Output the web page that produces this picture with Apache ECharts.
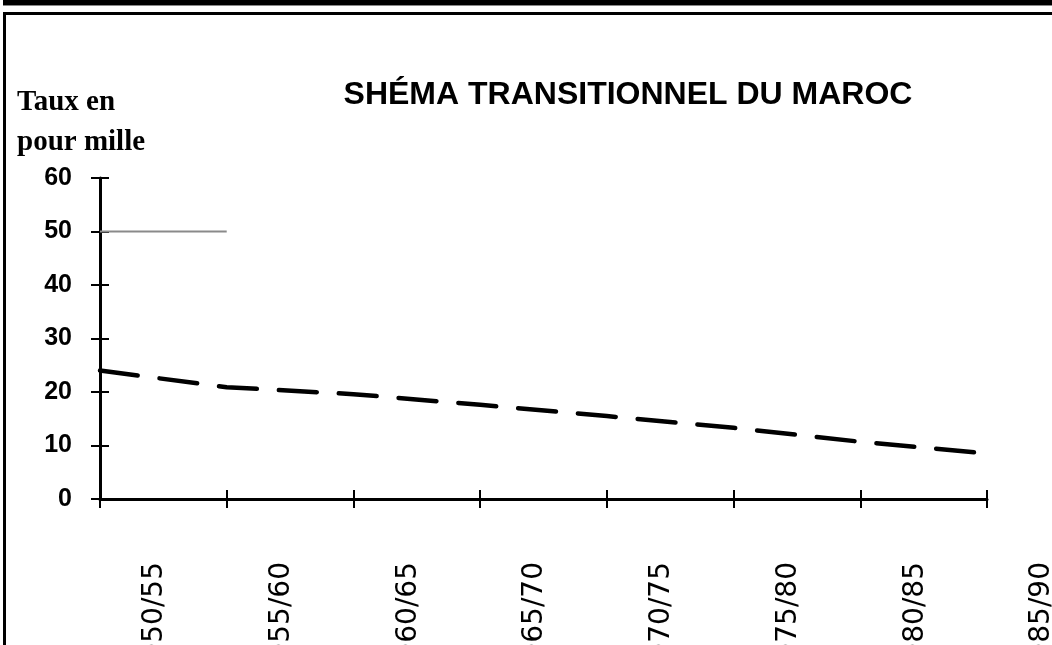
<!DOCTYPE html>
<html lang="fr">
<head>
  <meta charset="UTF-8">
  <title>Shéma transitionnel du Maroc</title>
  <style>
    html, body { margin: 0; padding: 0; background: #fff; }
    #chart { width: 1052px; height: 645px; }
  </style>
  <script src="https://cdn.jsdelivr.net/npm/echarts@6/dist/echarts.min.js"></script>
</head>
<body>
<div id="chart"></div>
<script>
  // périodes quinquennales
  const periods = ['1950/55', '1955/60', '1960/65', '1965/70', '1970/75', '1975/80', '1980/85', '1985/90'];
  // taux de mortalité (pour mille)
  const mortalite = [24, 20.9, 19.6, 17.6, 15.5, 13.3, 10.7, 8.5];
  // trait gris à 50 (début de la série natalité)
  const natalite = [50, 50, null, null, null, null, null, null];

  const chart = echarts.init(document.getElementById('chart'));

  const yBase = { type: 'value', min: 0, max: 60, interval: 10, splitLine: { show: false } };
  const xBase = { type: 'category', data: periods, boundaryGap: false, position: 'bottom' };

  chart.setOption({
    animation: false,
    title: [
      {
        text: 'SHÉMA TRANSITIONNEL DU MAROC',
        left: 628, top: 79, textAlign: 'center', padding: 0,
        textStyle: { fontFamily: 'Liberation Sans', fontWeight: 'bold', fontSize: 32, color: '#000' }
      },
      {
        text: 'Taux en\npour mille',
        left: 17, top: 83, padding: 0,
        textStyle: { fontFamily: 'Liberation Serif', fontWeight: 'bold', fontSize: 29, lineHeight: 40, color: '#000' }
      }
    ],
    graphic: [
      // cadres
      { type: 'rect', shape: { x: 3, y: 0, width: 1049, height: 5 }, style: { fill: '#000' } },
      { type: 'rect', shape: { x: 3, y: 5, width: 1049, height: 1 }, style: { fill: '#888' } },
      { type: 'rect', shape: { x: 3, y: 12, width: 1049, height: 3 }, style: { fill: '#000' } },
      { type: 'rect', shape: { x: 3, y: 12, width: 3, height: 633 }, style: { fill: '#000' } }
    ],
    grid: { left: 100, right: 65, top: 178, bottom: 146, containLabel: false, outerBoundsMode: 'none' },
    xAxis: [
      Object.assign({}, xBase, {
        axisLine: { lineStyle: { color: '#000', width: 3 } },
        axisTick: { inside: false, length: 9, lineStyle: { color: '#000', width: 2 } },
        axisLabel: {
          rotate: 90, margin: 63, lineHeight: 110, interval: 0,
          showMinLabel: true, showMaxLabel: true, hideOverlap: false,
          formatter: v => '\n' + v,
          fontFamily: 'DejaVu Sans', fontSize: 28, color: '#000'
        }
      }),
      Object.assign({}, xBase, {
        axisLine: { show: false },
        axisTick: { inside: true, length: 9, lineStyle: { color: '#000', width: 2 } },
        axisLabel: { show: false }
      })
    ],
    yAxis: [
      Object.assign({}, yBase, {
        axisLine: { show: true, lineStyle: { color: '#000', width: 3 } },
        axisTick: { show: true, inside: false, length: 9, lineStyle: { color: '#000', width: 2 } },
        axisLabel: { margin: 28, fontFamily: 'Liberation Sans', fontWeight: 'bold', fontSize: 25, color: '#000' }
      }),
      Object.assign({}, yBase, {
        position: 'left',
        axisLine: { show: false },
        axisTick: { show: true, inside: true, length: 9, lineStyle: { color: '#000', width: 2 } },
        axisLabel: { show: false }
      })
    ],
    series: [
      {
        name: 'Natalité',
        type: 'line',
        data: natalite,
        showSymbol: false,
        lineStyle: { color: '#8a8a8a', width: 2 }
      },
      {
        name: 'Mortalité',
        type: 'line',
        data: mortalite,
        showSymbol: false,
        lineStyle: { color: '#000', width: 4.5, type: [38, 22], cap: 'round', join: 'round' }
      }
    ]
  });
</script>
</body>
</html>
